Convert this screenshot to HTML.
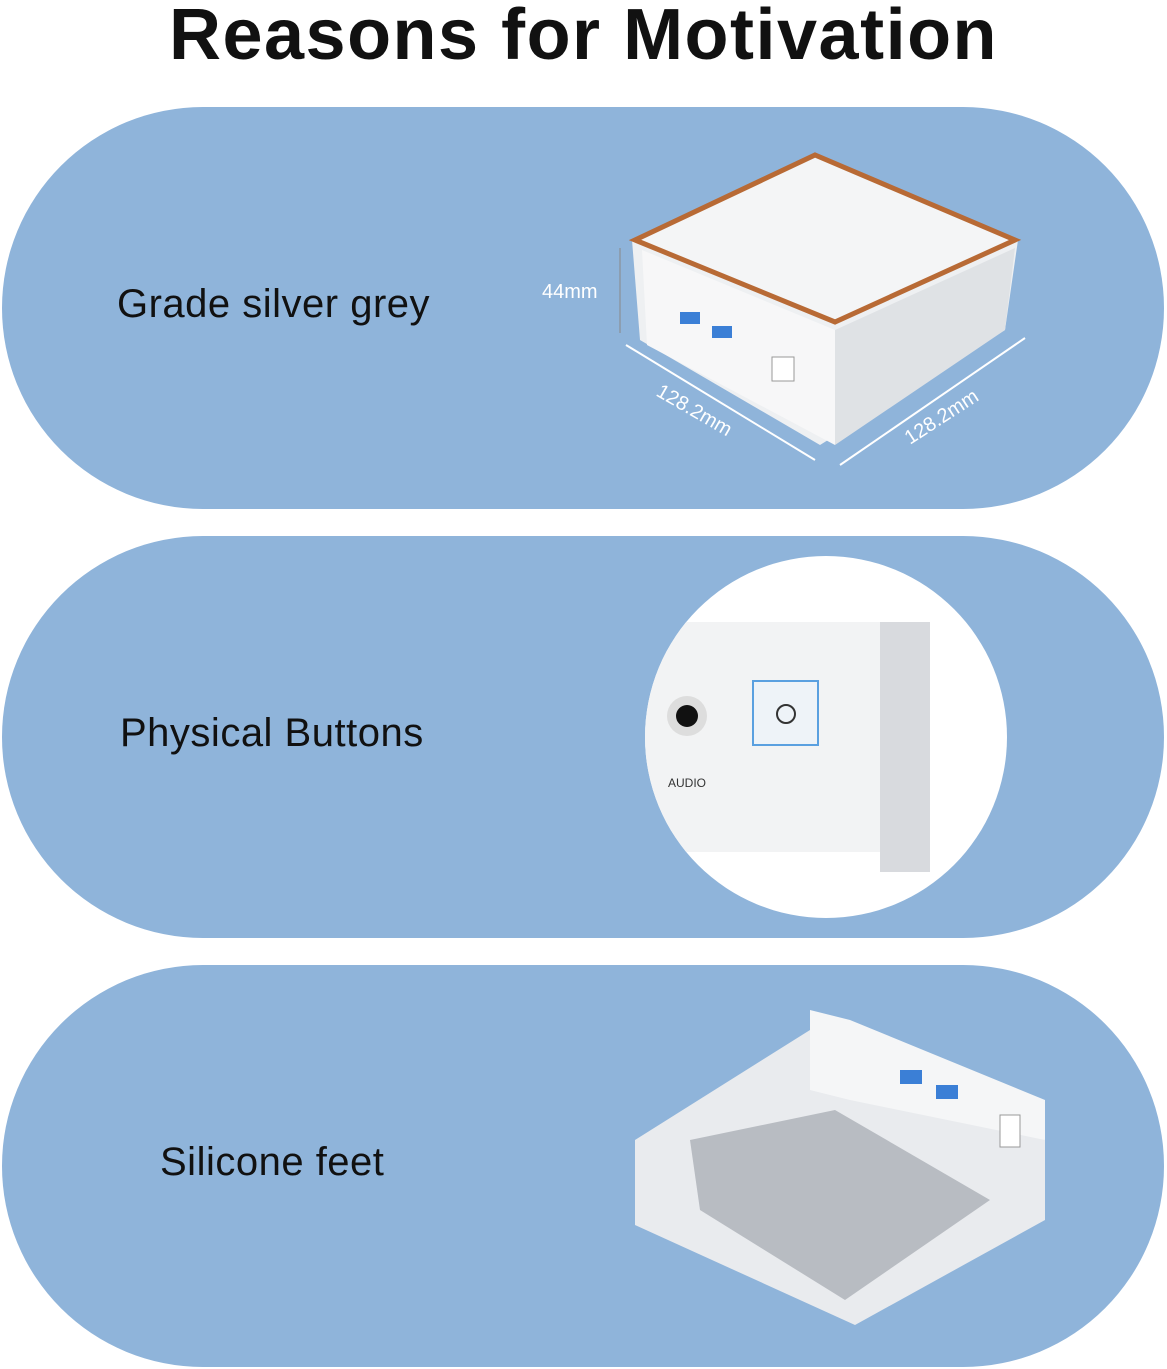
<!DOCTYPE html>
<html><head><meta charset="utf-8"><style>
body{margin:0;width:1167px;height:1369px;background:#fff;position:relative;overflow:hidden;font-family:"Liberation Sans",sans-serif}
.t{position:absolute;left:0;width:1167px;top:-6px;text-align:center;font-size:72px;font-weight:bold;color:#111;letter-spacing:1.5px}
.p{position:absolute;left:2px;width:1162px;height:402px;border-radius:201px;background:#8fb4da}
.l{position:absolute;font-size:40px;color:#111;letter-spacing:0.5px}
svg{position:absolute;left:0;top:0}
</style></head><body>
<div class="t">Reasons for Motivation</div>
<div class="p" style="top:107px"></div>
<div class="p" style="top:536px"></div>
<div class="p" style="top:965px"></div>
<div class="l" style="left:117px;top:282px">Grade silver grey</div>
<div class="l" style="left:120px;top:711px">Physical Buttons</div>
<div class="l" style="left:160px;top:1140px">Silicone feet</div>
<svg width="1167" height="1369">
<defs><clipPath id="c"><circle cx="826" cy="737" r="181"/></clipPath></defs>
<polygon points="632,240 815,153 1018,240 1005,330 820,445 640,340" fill="#eef0f2"/>
<polygon points="635,240 815,155 1015,240 835,322" fill="#f4f5f6" stroke="#b86a35" stroke-width="5"/>
<polygon points="642,250 835,330 835,445 647,345" fill="#f7f7f8"/>
<polygon points="835,330 1015,248 1005,330 835,445" fill="#dfe2e5"/>
<rect x="680" y="312" width="20" height="12" fill="#3b7fd6"/><rect x="712" y="326" width="20" height="12" fill="#3b7fd6"/>
<rect x="772" y="357" width="22" height="24" fill="#fff" stroke="#999"/>
<line x1="620" y1="248" x2="620" y2="333" stroke="#888"/>
<text x="542" y="298" font-size="20" fill="#fff" font-family="Liberation Sans">44mm</text>
<line x1="626" y1="345" x2="815" y2="460" stroke="#fff" stroke-width="2"/>
<line x1="840" y1="465" x2="1025" y2="338" stroke="#fff" stroke-width="2"/>
<text x="655" y="395" font-size="20" fill="#fff" transform="rotate(30 655 395)">128.2mm</text>
<text x="910" y="445" font-size="20" fill="#fff" transform="rotate(-33 910 445)">128.2mm</text>
<circle cx="826" cy="737" r="181" fill="#fff"/>
<g clip-path="url(#c)">
<rect x="640" y="622" width="280" height="230" fill="#f2f3f4"/>
<rect x="880" y="622" width="50" height="250" fill="#d8dade"/>
</g>
<circle cx="687" cy="716" r="20" fill="#ddd"/><circle cx="687" cy="716" r="11" fill="#111"/>
<rect x="753" y="681" width="65" height="64" fill="#eef3f8" stroke="#5aa0e0" stroke-width="2"/>
<circle cx="786" cy="714" r="9" fill="none" stroke="#333" stroke-width="2"/>
<text x="668" y="787" font-size="12" fill="#333">AUDIO</text>
<polygon points="635,1140 810,1030 1045,1140 1045,1220 855,1325 635,1225" fill="#e9ebee"/>
<polygon points="810,1010 850,1020 1045,1100 1045,1140 850,1100 810,1090" fill="#f5f6f7"/>
<polygon points="690,1140 835,1110 990,1200 845,1300 700,1210" fill="#b8bcc2"/>
<rect x="900" y="1070" width="22" height="14" fill="#3b7fd6"/><rect x="936" y="1085" width="22" height="14" fill="#3b7fd6"/>
<rect x="1000" y="1115" width="20" height="32" fill="#fff" stroke="#999"/>
</svg>
</body></html>
